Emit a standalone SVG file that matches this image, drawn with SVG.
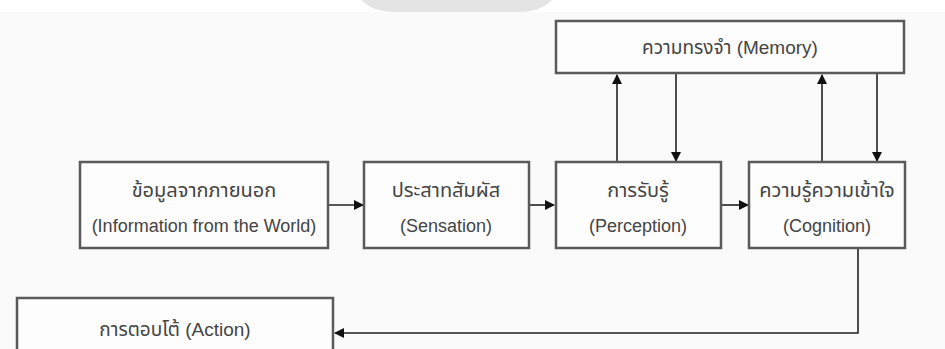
<svg xmlns="http://www.w3.org/2000/svg" width="945" height="349" viewBox="0 0 945 349">
<defs>
<style>
.box{fill:#fdfdfd;stroke:#5a5a5a;stroke-width:2.5}
.t{font-family:"Liberation Sans","Noto Sans Thai","Noto Sans",sans-serif;font-size:18px;fill:#444;text-anchor:middle}
.th{font-size:20px}
.n{font-size:19px}
.c{fill:none;stroke:#222;stroke-width:1.6}
</style>
<marker id="ahb" viewBox="0 0 10 10" refX="9" refY="5" markerWidth="10" markerHeight="10" orient="auto" markerUnits="userSpaceOnUse">
<path d="M0,0 L10,5 L0,10 z" fill="#111"/>
</marker>
</defs>
<rect x="0" y="0" width="945" height="349" fill="#fafafa"/>
<rect x="0" y="0" width="945" height="12" fill="#ffffff"/>
<path d="M362,0 L552,0 Q540,12 520,12 L395,12 Q372,12 362,0 z" fill="#e4e4e4"/>

<g id="connectors">
<line class="c" x1="328" y1="205" x2="363" y2="205" marker-end="url(#ahb)"/>
<line class="c" x1="529" y1="205" x2="554" y2="205" marker-end="url(#ahb)"/>
<line class="c" x1="721" y1="205" x2="748" y2="205" marker-end="url(#ahb)"/>
<line class="c" x1="617" y1="162" x2="617" y2="75" marker-end="url(#ahb)"/>
<line class="c" x1="676" y1="74" x2="676" y2="161" marker-end="url(#ahb)"/>
<line class="c" x1="822" y1="162" x2="822" y2="75" marker-end="url(#ahb)"/>
<line class="c" x1="877" y1="74" x2="877" y2="161" marker-end="url(#ahb)"/>
<polyline class="c" points="858,249 858,333 335,333" marker-end="url(#ahb)"/>
</g>

<g id="memory">
<rect class="box" x="556" y="21" width="348" height="52"/>
<text class="t n" x="730" y="54">ความทรงจำ (Memory)</text>
</g>
<g id="world">
<rect class="box" x="80" y="162" width="248" height="86"/>
<text class="t th" x="204" y="197">ข้อมูลจากภายนอก</text>
<text class="t" x="204" y="232">(Information from the World)</text>
</g>
<g id="sensation">
<rect class="box" x="364" y="162" width="165" height="86"/>
<text class="t th" x="446" y="197">ประสาทสัมผัส</text>
<text class="t" x="446" y="232">(Sensation)</text>
</g>
<g id="perception">
<rect class="box" x="556" y="162" width="165" height="86"/>
<text class="t th" x="638" y="197">การรับรู้</text>
<text class="t" x="638" y="232">(Perception)</text>
</g>
<g id="cognition">
<rect class="box" x="749" y="162" width="156" height="86"/>
<text class="t th" x="827" y="197">ความรู้ความเข้าใจ</text>
<text class="t" x="827" y="232">(Cognition)</text>
</g>
<g id="action">
<rect class="box" x="17" y="298" width="316" height="60"/>
<text class="t n" x="175" y="336">การตอบโต้ (Action)</text>
</g>
</svg>
